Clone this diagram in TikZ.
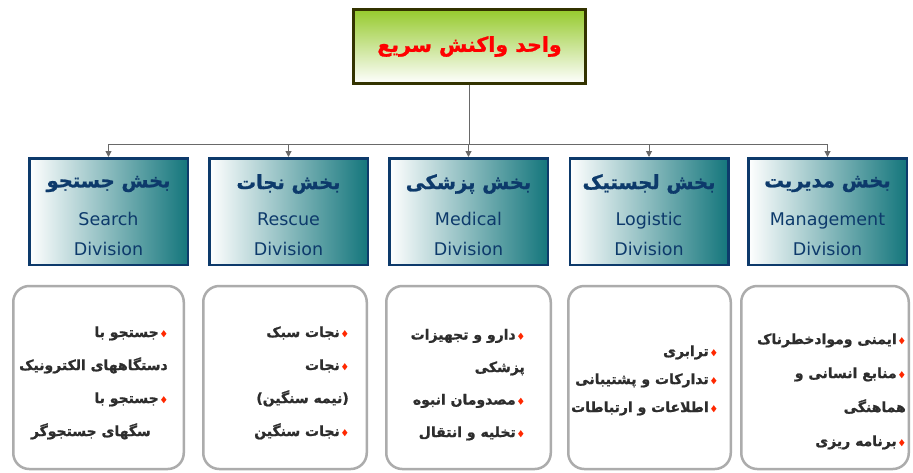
\documentclass[tikz,border=0pt]{standalone}
\usepackage{fontspec}
\usetikzlibrary{arrows.meta}
\setmainfont{DejaVu Sans}
\newfontfamily\fa[Script=Arabic]{DejaVu Sans}
\newfontfamily\faheavy[Script=Arabic,FakeBold=1.2]{DejaVu Sans Bold}
\TeXXeTstate=1
\definecolor{navy}{RGB}{13,58,107}
\definecolor{tealdk}{RGB}{20,118,124}
\definecolor{topgreen}{RGB}{150,202,45}
\definecolor{topborder}{RGB}{51,51,0}
\definecolor{conngray}{RGB}{105,105,105}
\definecolor{boxgray}{RGB}{172,172,172}
\definecolor{txtdark}{RGB}{45,45,45}
\definecolor{bulletred}{RGB}{255,40,0}
\newcommand{\bul}{\hspace{1pt}{\color{bulletred}\fontsize{9}{9}\selectfont ♦}}
\begin{document}
\begin{tikzpicture}[x=1pt,y=-1pt,
  topbox/.style={draw=topborder, line width=3pt, top color=topgreen, bottom color=white,
     minimum width=232pt, minimum height=74pt, inner sep=0pt, text=red,
     font=\faheavy\fontsize{20.5}{24}\selectfont},
  divbox/.style={draw=navy, line width=2.5pt, left color=white, right color=tealdk,
     minimum width=158.5pt, minimum height=106.5pt, inner sep=0pt},
  headfa/.style={text=navy, inner sep=0pt, font=\faheavy\fontsize{19.5}{22}\selectfont},
  engl/.style={text=navy, inner sep=0pt, anchor=base, font=\fontsize{17.5}{20}\selectfont},
  listbox/.style={draw=boxgray, line width=2.5pt, rounded corners=16pt, fill=white,
     minimum height=183pt, inner sep=0pt},
  listtxt/.style={text=txtdark, inner sep=0pt, anchor=base east, align=right},
  conn/.style={draw=conngray, line width=1pt, -{Triangle[length=6pt,width=6pt]}}]
\useasboundingbox (0,0) rectangle (913,472);
\clip (0,0) rectangle (913,472);
\fill[white] (0,0) rectangle (913,472);

% top box
\node[topbox] (top) at (469.5,46.5) {\beginR واحد واکنش سریع\endR};

% divisions
\newcommand{\division}[4]{%
  \node[divbox] (#1) at (#2,211.5) {};
  \node[headfa] (#1h) at (#2,184) {#3};
  \node[engl] (#1e) at (#2,225) {#4};
  \node[engl] (#1f) at (#2,255) {Division};
}
\division{d1}{108.5}{\beginR بخش جستجو\endR}{Search}
\division{d2}{288.5}{\beginR بخش نجات\endR}{Rescue}
\division{d3}{468.5}{\beginR بخش پزشکی\endR}{Medical}
\division{d4}{649}{\beginR بخش لجستیک\endR}{Logistic}
\division{d5}{827.5}{\beginR بخش مدیریت\endR}{Management}

% connectors
\coordinate (bus) at (469,144);
\foreach \d in {d1,d2,d3,d4,d5}
  \draw[conn] (top.south) -- (top.south |- bus) -| (\d.north);

% list boxes
\node[listbox, minimum width=170.5pt] (b1) at (98.5,377.5) {};
\node[listbox, minimum width=163.5pt] (b2) at (285,377.5) {};
\node[listbox, minimum width=164.5pt] (b3) at (468.5,377.5) {};
\node[listbox, minimum width=162.5pt] (b4) at (649.5,377.5) {};
\node[listbox, minimum width=167.5pt] (b5) at (825,377.5) {};

\node[listtxt, font=\faheavy\fontsize{14}{33}\selectfont] (t1) at (168,436) {%
  \beginR جستجو با\endR\bul\\
  \beginR دستگاههای الکترونیک\endR\hspace*{3pt}\\
  \beginR جستجو با\endR\bul\\
  \beginR سگهای جستجوگر\endR\hspace*{17pt}};
\node[listtxt, font=\faheavy\fontsize{14}{33}\selectfont] (t2) at (349,436) {%
  \beginR نجات سبک\endR\bul\\
  \beginR نجات\endR\bul\\
  \beginR (نیمه سنگین)\endR\hspace*{23pt}\\
  \beginR نجات سنگین\endR\bul};
\node[listtxt, font=\faheavy\fontsize{14}{32.5}\selectfont] (t3) at (525,437) {%
  \beginR دارو و تجهیزات\endR\bul\\
  \beginR پزشکی\endR\hspace*{8pt}\\
  \beginR مصدومان انبوه\endR\bul\\
  \beginR تخلیه و انتقال\endR\bul};
\node[listtxt, font=\faheavy\fontsize{14}{28}\selectfont] (t4) at (718,412) {%
  \beginR ترابری\endR\bul\\
  \beginR تدارکات و پشتیبانی\endR\bul\\
  \beginR اطلاعات و ارتباطات\endR\bul};
\node[listtxt, font=\faheavy\fontsize{14}{34}\selectfont] (t5) at (906,446) {%
  \beginR ایمنی وموادخطرناک\endR\bul\\
  \beginR منابع انسانی و\endR\bul\\
  \beginR هماهنگی\endR\hspace*{12pt}\\
  \beginR برنامه ریزی\endR\bul};
\end{tikzpicture}
\end{document}
